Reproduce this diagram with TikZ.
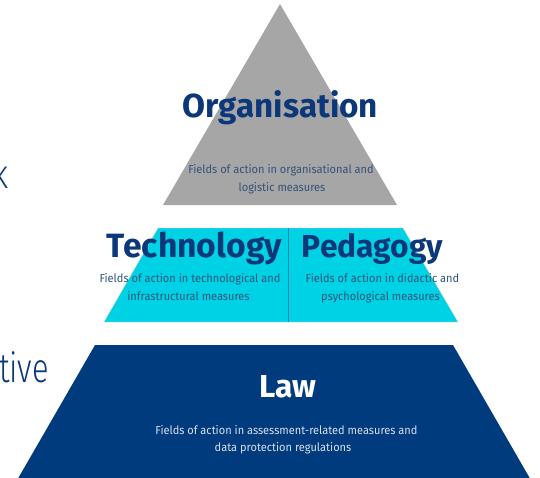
\documentclass[tikz,border=0pt]{standalone}
\usepackage{fontspec}
\setmainfont{Fira Sans}
\usepackage{graphicx}
\definecolor{pgray}{RGB}{166,166,166}
\definecolor{pcyan}{RGB}{0,210,229}
\definecolor{pnavy}{RGB}{0,59,126}
\definecolor{ttext}{RGB}{12,56,122}
\definecolor{stgray}{RGB}{52,82,122}
\definecolor{stcyan}{RGB}{45,85,125}
\definecolor{stnavy}{RGB}{215,222,232}
\definecolor{pdiv}{RGB}{25,135,175}
\tikzset{
  title/.style={anchor=base, inner sep=0pt, text=ttext},
  small/.style={anchor=base, inner sep=0pt, font=\fontsize{11.6}{13}\selectfont},
  side/.style={anchor=base east, inner sep=0pt, text=ttext, font=\fontsize{41}{44}\selectfont\fontspec{Fira Sans Light}}
}
\newcommand{\ttl}[2]{\resizebox{#1pt}{!}{\bfseries #2}}
\newcommand{\sml}[1]{\scalebox{0.95}[1]{#1}}
\begin{document}
\begin{tikzpicture}[x=1pt,y=-1pt]
\useasboundingbox (0,0) rectangle (540,477);
\begin{scope}
\clip (0,0) rectangle (540,477);
% shapes
\path[fill=pgray] (280,4) coordinate (apex) -- (397,205) coordinate (tr) -- (163,205) coordinate (tl) -- cycle;
\path[fill=pcyan, draw=black!15, line width=0.4pt] (158,228) -- (403,228) -- (458,322) -- (104,322) -- cycle;
\coordinate (dtop) at (288,228);
\coordinate (dbot) at (288,322);
\draw[pdiv, line width=0.6pt] (dtop) -- (dbot);
\path[fill=pnavy] (95,345) -- (453,345) -- (532,482) -- (16,482) -- cycle;
% titles
\node[title] (org) at (280.5,117) {\ttl{195}{Organisation}};
\node[title] (tech) at (194.5,257) {\ttl{175}{Technology}};
\node[title] (ped) at (372.5,257) {\ttl{141}{Pedagogy}};
\node[title, text=white] (law) at (288,397) {\ttl{57}{Law}};
% descriptions
\node[small, text=stgray] (o1) at (281,173.5) {\sml{Fields of action in organisational and}};
\node[small, text=stgray] (o2) at (282,191.5) {\sml{logistic measures}};
\node[small, text=stcyan] (t1) at (190,282.5) {\sml{Fields of action in technological and}};
\node[small, text=stcyan] (t2) at (188.5,300.5) {\sml{infrastructural measures}};
\node[small, text=stcyan] (p1) at (382.5,282.5) {\sml{Fields of action in didactic and}};
\node[small, text=stcyan] (p2) at (380.5,300.5) {\sml{psychological measures}};
\node[small, text=stnavy] (l1) at (286.5,434) {\sml{Fields of action in assessment-related measures and}};
\node[small, text=stnavy] (l2) at (283,451) {\sml{data protection regulations}};
% cut-off side texts
\node[side] (sk) at (9,188) {\scalebox{0.75}[1]{k}};
\node[side] (stive) at (49,382) {\scalebox{0.75}[1]{tive}};
\end{scope}
\end{tikzpicture}
\end{document}
